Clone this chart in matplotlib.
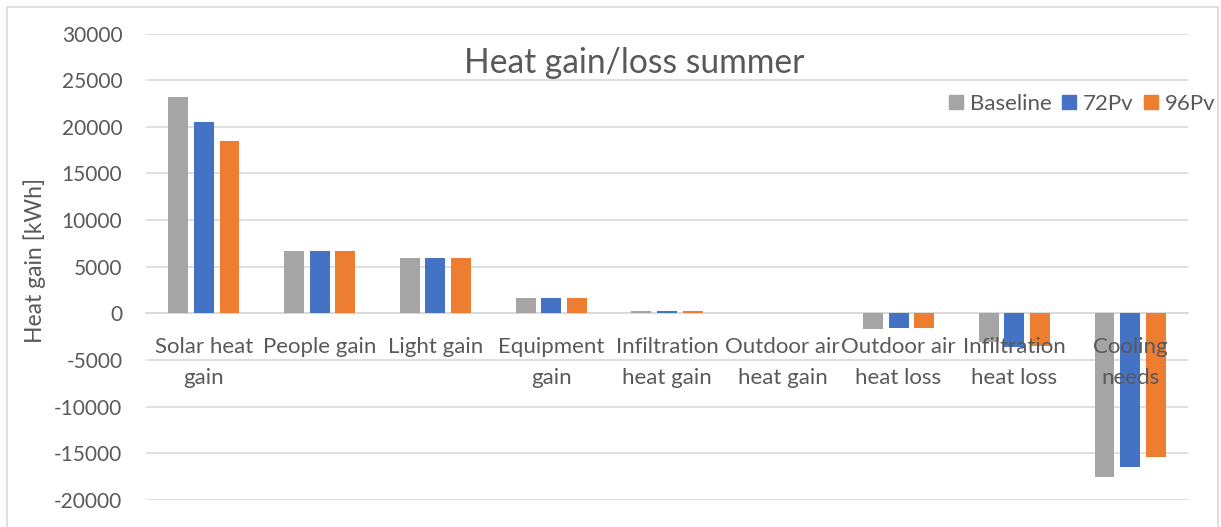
import matplotlib
matplotlib.use("Agg")
import matplotlib.pyplot as plt
import numpy as np
from matplotlib.patches import Rectangle
from matplotlib.lines import Line2D

plt.rcParams['font.family'] = ['Lato', 'DejaVu Sans']

categories = ["Solar heat\ngain", "People gain", "Light gain", "Equipment\ngain",
              "Infiltration\nheat gain", "Outdoor air\nheat gain", "Outdoor air\nheat loss",
              "Infiltration\nheat loss", "Cooling\nneeds"]
series_names = ["Baseline", "72Pv", "96Pv"]
baseline = [23200, 6700, 5900, 1600, 250, 0, -1700, -3100, -17600]
pv72 = [20500, 6700, 5900, 1600, 250, 0, -1600, -3600, -16480]
pv96 = [18500, 6700, 5900, 1600, 250, 0, -1600, -3500, -15430]
yticks = [-20000, -15000, -10000, -5000, 0, 5000, 10000, 15000, 20000, 25000, 30000]

colors = ["#A5A5A5", "#4472C4", "#ED7D31"]
text_color = "#595959"
grid_color = "#D9D9D9"

fig = plt.figure(figsize=(12.21, 5.27), dpi=100)
ax = fig.add_axes([146 / 1221, 1 - 499.8 / 527, (1188 - 146) / 1221, (499.8 - 33.6) / 527])

x = np.arange(len(categories))
step = 0.2215
width = 0.172
for i, (vals, name) in enumerate(zip([baseline, pv72, pv96], series_names)):
    ax.bar(x + (i - 1) * step, vals, width=width, color=colors[i], label=name, zorder=2)

ax.set_xlim(-0.5, len(categories) - 0.5)
ax.set_ylim(-20000, 30000)
ax.set_yticks(yticks)
ax.set_yticklabels([str(v) for v in yticks])
ax.yaxis.grid(True, color=grid_color, linewidth=1.2)
ax.set_axisbelow(True)
# category labels sit on top of the bars
ax.xaxis.set_zorder(3)

for s in ["left", "right", "top"]:
    ax.spines[s].set_visible(False)
ax.spines["bottom"].set_position(("data", 0))
ax.spines["bottom"].set_color(grid_color)
ax.spines["bottom"].set_linewidth(1.2)
ax.spines["bottom"].set_zorder(1.5)

ax.set_xticks(x)
ax.set_xticklabels(categories, fontsize=16, color=text_color, linespacing=1.7)
ax.tick_params(axis="x", length=0, pad=17)
ax.tick_params(axis="y", length=0, pad=17, labelsize=15, labelcolor=text_color)

ax.set_ylabel("Heat gain [kWh]", fontsize=16.5, color=text_color)
ax.yaxis.set_label_coords(46 / 1221, 1 - 260 / 527, transform=fig.transFigure)

fig.text(634 / 1221, 1 - 63 / 527, "Heat gain/loss summer", fontsize=24.2,
         color=text_color, ha="center", va="center")

handles = [Line2D([], [], marker="s", linestyle="none", markersize=10.5,
                  markerfacecolor=c, markeredgecolor=c) for c in colors]
fig.legend(handles, series_names, loc="center right", bbox_to_anchor=(1215 / 1221, 1 - 104 / 527),
           frameon=False, ncol=3, fontsize=16, labelcolor=text_color,
           handlelength=0.7, handletextpad=0.25, columnspacing=0.45, borderpad=0, borderaxespad=0)

fig.patches.append(Rectangle((7 / 1221, -0.02), (1218 - 7) / 1221, 1.02 - 7 / 527,
                             transform=fig.transFigure, fill=False,
                             edgecolor=grid_color, linewidth=1.2))

fig.savefig("out.png", dpi=100)
